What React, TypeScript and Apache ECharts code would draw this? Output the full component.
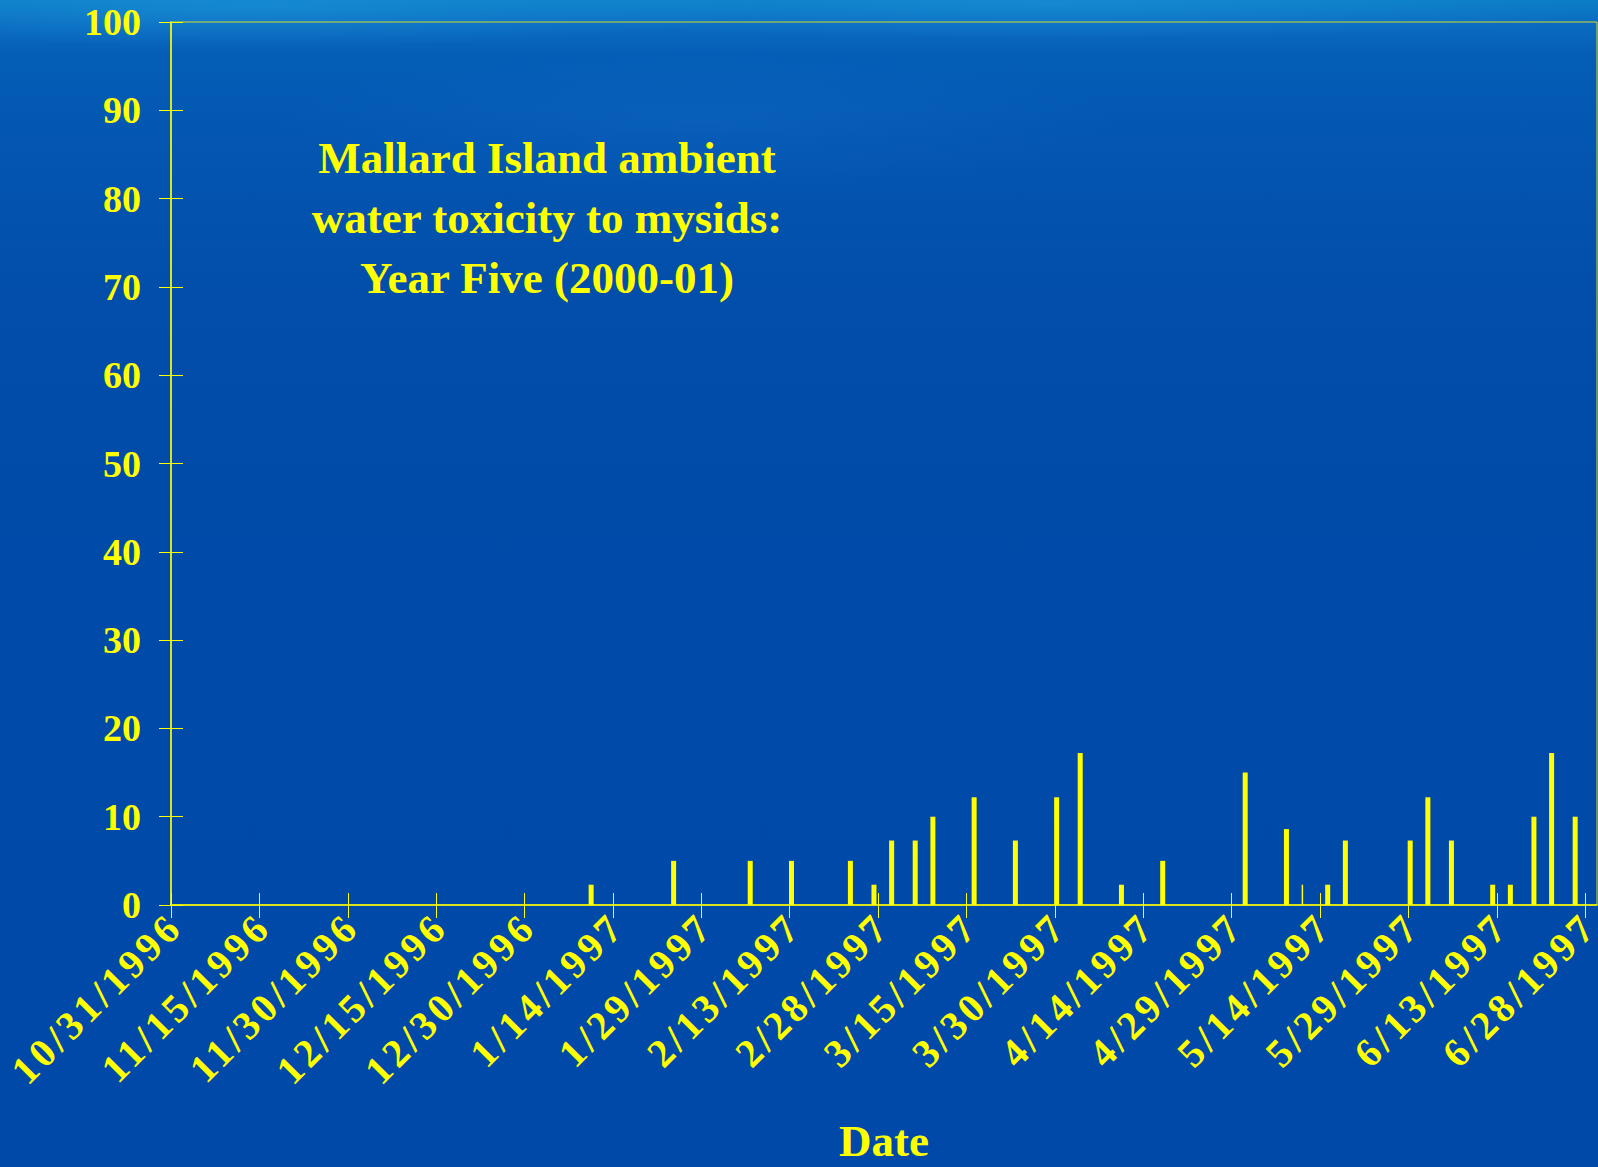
import React, { useEffect, useRef } from "react";
import * as echarts from "echarts";

// Sampling period start and the 15-day tick dates along the time axis
const axisStart = "1996-10-31";
const axisEnd = "1997-06-30";
const tickDates = [
  "1996-10-31", "1996-11-15", "1996-11-30", "1996-12-15", "1996-12-30",
  "1997-01-14", "1997-01-29", "1997-02-13", "1997-02-28", "1997-03-15",
  "1997-03-30", "1997-04-14", "1997-04-29", "1997-05-14", "1997-05-29",
  "1997-06-13", "1997-06-28",
];

// Sample dates and toxicity values (standard bars)
const sampleDates = [
  "1997-01-10", "1997-01-24", "1997-02-06", "1997-02-13", "1997-02-23",
  "1997-02-27", "1997-03-02", "1997-03-06", "1997-03-09", "1997-03-16",
  "1997-03-23", "1997-03-30", "1997-04-03", "1997-04-10", "1997-04-17",
  "1997-05-01", "1997-05-08", "1997-05-15", "1997-05-18", "1997-05-29",
  "1997-06-01", "1997-06-05", "1997-06-12", "1997-06-15", "1997-06-19",
  "1997-06-22", "1997-06-26",
];
const toxicityValues = [
  2.3, 5, 5, 5, 5,
  2.3, 7.3, 7.3, 10, 12.2,
  7.3, 12.2, 17.2, 2.3, 5,
  15, 8.6, 2.3, 7.3, 7.3,
  12.2, 7.3, 2.3, 2.3, 10,
  17.2, 10,
];

// A single narrow sample bar
const narrowDates = ["1997-05-11"];
const narrowValues = [2.3];

const yTicks = [0, 10, 20, 30, 40, 50, 60, 70, 80, 90, 100];

const titleLines = ["Mallard Island ambient", "water toxicity to mysids:", "Year Five (2000-01)"];
const xAxisTitle = "Date";

const DAY_MS = 86400000;
const parseDay = (s: string) => {
  const [y, m, d] = s.split("-").map(Number);
  return Date.UTC(y, m - 1, d);
};
const originMs = parseDay(axisStart);
const toDay = (s: string) => Math.round((parseDay(s) - originMs) / DAY_MS);
const fmtDay = (v: number) => {
  const dt = new Date(originMs + Math.round(v) * DAY_MS);
  return `${dt.getUTCMonth() + 1}/${dt.getUTCDate()}/${dt.getUTCFullYear()}`;
};

const YELLOW = "#ffff00";
const FONT = "'Liberation Serif', 'Times New Roman', Times, serif";
const DATE_LABEL_RE = /^\d{1,2}\/\d{1,2}\/\d{4}$/;

export default function App() {
  const ref = useRef<HTMLDivElement>(null);

  useEffect(() => {
    const el = ref.current;
    if (!el) return;
    const chart = echarts.init(el, null, { renderer: "svg" });

    const tickDays = tickDates.map(toDay);
    const maxDay = toDay(axisEnd);
    const yMax = yTicks[yTicks.length - 1];
    const yStep = yTicks[1] - yTicks[0];

    const xCommon = {
      type: "value" as const,
      min: 0,
      max: maxDay,
      position: "bottom" as const,
      splitLine: { show: false },
    };
    const yCommon = {
      type: "value" as const,
      min: yTicks[0],
      max: yMax,
      interval: yStep,
      position: "left" as const,
      splitLine: { show: false },
    };

    // widen the tracking of the slanted date labels, keeping their ends on the ticks
    const spaceDateLabels = () => {
      el.querySelectorAll("svg text").forEach((t) => {
        if (DATE_LABEL_RE.test((t.textContent || "").trim())) {
          const txt = t as SVGTextElement;
          txt.style.letterSpacing = "4px";
          txt.setAttribute("dx", "6");
        }
      });
    };
    chart.on("finished", spaceDateLabels);

    chart.setOption({
      animation: false,
      backgroundColor: "transparent",
      title: {
        text: titleLines.join("\n"),
        left: 547,
        top: 128,
        padding: 0,
        textAlign: "center",
        textStyle: {
          color: YELLOW,
          fontFamily: FONT,
          fontWeight: "bold",
          fontSize: 45,
          lineHeight: 60,
        },
      },
      grid: {
        left: 171,
        right: 1,
        top: 22,
        bottom: 262,
        containLabel: false,
        outerBoundsMode: "none",
        show: true,
        borderColor: "#d4d834",
        borderWidth: 1,
        backgroundColor: "transparent",
      },
      xAxis: [
        {
          ...xCommon,
          name: xAxisTitle,
          nameLocation: "middle",
          nameGap: 216,
          nameTextStyle: {
            color: YELLOW,
            fontFamily: FONT,
            fontWeight: "bold",
            fontSize: 45,
            lineHeight: 40,
          },
          axisLine: { show: true, lineStyle: { color: YELLOW, width: 1.5 } },
          axisTick: {
            show: true,
            inside: false,
            length: 13,
            customValues: tickDays,
            lineStyle: { color: YELLOW, width: 1 },
          },
          axisLabel: {
            show: true,
            rotate: 45,
            margin: 19,
            padding: [20, 0, 0, 0],
            lineHeight: 22,
            customValues: tickDays,
            formatter: (v: number) => fmtDay(v),
            color: YELLOW,
            fontFamily: FONT,
            fontWeight: "bold",
            fontSize: 40,
          },
        },
        {
          ...xCommon,
          axisLine: { show: false },
          axisTick: {
            show: true,
            inside: true,
            length: 12,
            customValues: tickDays,
            lineStyle: { color: YELLOW, width: 1 },
          },
          axisLabel: { show: false },
        },
      ],
      yAxis: [
        {
          ...yCommon,
          axisLine: { show: true, lineStyle: { color: YELLOW, width: 1.5 } },
          axisTick: { show: true, inside: false, length: 12, lineStyle: { color: YELLOW, width: 1 } },
          axisLabel: {
            show: true,
            margin: 30,
            color: YELLOW,
            fontFamily: FONT,
            fontWeight: "bold",
            fontSize: 38,
          },
        },
        {
          ...yCommon,
          axisLine: { show: false },
          axisTick: { show: true, inside: true, length: 12, lineStyle: { color: YELLOW, width: 1 } },
          axisLabel: { show: false },
        },
      ],
      series: [
        {
          type: "bar",
          xAxisIndex: 0,
          yAxisIndex: 0,
          barWidth: 5,
          barGap: "-100%",
          itemStyle: { color: YELLOW },
          data: sampleDates.map((d, i) => [toDay(d), toxicityValues[i]]),
          z: 3,
        },
        {
          type: "bar",
          xAxisIndex: 0,
          yAxisIndex: 0,
          barWidth: 1.5,
          barGap: "-100%",
          itemStyle: { color: YELLOW },
          data: narrowDates.map((d, i) => [toDay(d), narrowValues[i]]),
          z: 3,
        },
      ],
    });
    spaceDateLabels();

    return () => {
      chart.off("finished", spaceDateLabels);
      chart.dispose();
    };
  }, []);

  return (
    <div
      style={{
        position: "fixed",
        left: 0,
        top: 0,
        width: 1598,
        height: 1167,
        background: [
          "radial-gradient(ellipse 520px 40px at 260px 6px, rgba(30,150,220,0.55), rgba(30,150,220,0))",
          "radial-gradient(ellipse 600px 36px at 1050px 4px, rgba(30,150,220,0.5), rgba(30,150,220,0))",
          "radial-gradient(ellipse 420px 70px at 700px 120px, rgba(20,110,200,0.3), rgba(20,110,200,0))",
          "linear-gradient(to bottom, #0a7cc6 0px, #0a6cc0 22px, #055eb6 55px, #0356b1 140px, #024eaa 300px, #004aa8 520px, #0049a8 1167px)",
        ].join(", "),
      }}
    >
      <div ref={ref} style={{ width: 1598, height: 1167 }} />
    </div>
  );
}
